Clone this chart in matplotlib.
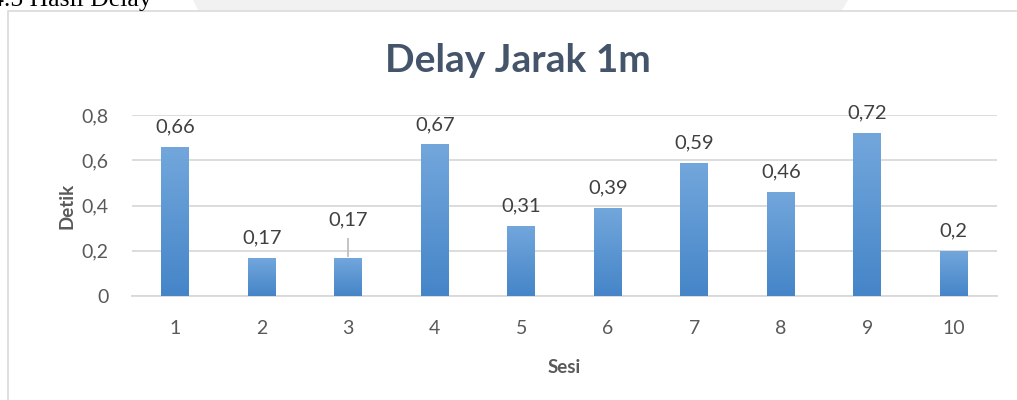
import matplotlib
matplotlib.use("Agg")
import matplotlib.pyplot as plt
import numpy as np
from matplotlib.patches import Rectangle, Polygon
from matplotlib.colors import LinearSegmentedColormap

sesi = ["1", "2", "3", "4", "5", "6", "7", "8", "9", "10"]
delay = [0.66, 0.17, 0.17, 0.67, 0.31, 0.39, 0.59, 0.46, 0.72, 0.2]
delay_labels = ["0,66", "0,17", "0,17", "0,67", "0,31", "0,39", "0,59", "0,46", "0,72", "0,2"]
yticks = [0, 0.2, 0.4, 0.6, 0.8]
ytick_labels = ["0", "0,2", "0,4", "0,6", "0,8"]

FONT = "Lato"
W, H = 1017, 400
fig = plt.figure(figsize=(W / 100, H / 100), dpi=100)
fig.patch.set_facecolor("white")

# page decorations: watermark shape, heading text, chart frame
fig.patches.append(Polygon([[193 / W, 1], [198 / W, 1 - 10 / H], [842 / W, 1 - 10 / H], [848 / W, 1]],
                           closed=True, transform=fig.transFigure, facecolor="#f1f1f1",
                           edgecolor="none", zorder=0))
fig.text(152 / W, 1 - 6 / H, "4.5 Hasil Delay", ha="right", va="baseline",
         family="Liberation Serif", fontsize=18.5, color="black")
fig.patches.append(Rectangle((8 / W, -0.05), 1.1, 1 - 11 / H + 0.05, transform=fig.transFigure,
                             facecolor="white", edgecolor="#d9d9d9", linewidth=1.2, zorder=1))

ax = fig.add_axes([132 / W, (H - 296) / H, 865 / W, (296 - 115) / H])
ax.set_zorder(2)
ax.patch.set_alpha(0)
x = np.arange(len(sesi))
bars = ax.bar(x, delay, width=0.32, color="none", zorder=3)
grad = np.linspace(0, 1, 256).reshape(-1, 1)
cmap = LinearSegmentedColormap.from_list("g", ["#4585c8", "#73a7dc"])
for b in bars:
    x0, y0 = b.get_x(), b.get_y()
    im = ax.imshow(grad, extent=[x0, x0 + b.get_width(), y0, y0 + b.get_height()],
                   origin="lower", cmap=cmap, aspect="auto", zorder=3)
    im.set_clip_path(b)

ax.set_xlim(-0.5, len(sesi) - 0.5)
ax.set_ylim(0, 0.8)
ax.set_yticks(yticks)
ax.set_yticklabels(ytick_labels)
ax.set_xticks(x)
ax.set_xticklabels(sesi)
ax.yaxis.grid(True, color="#d9d9d9", linewidth=1.3, zorder=0)
ax.set_axisbelow(True)
for s in ["top", "right", "left"]:
    ax.spines[s].set_visible(False)
ax.spines["bottom"].set_color("#d9d9d9")
ax.spines["bottom"].set_linewidth(1.3)
ax.tick_params(axis="both", length=0, labelsize=14, labelcolor="#595959")
ax.tick_params(axis="y", pad=17)
ax.tick_params(axis="x", pad=17)
for lbl in ax.get_xticklabels() + ax.get_yticklabels():
    lbl.set_family(FONT)

px = 0.8 / (296 - 115)
for i, (v, t) in enumerate(zip(delay, delay_labels)):
    if i == 2:
        ly = v + 38 * px
        ax.plot([i, i], [v + 2 * px, v + 19 * px], color="#bfbfbf", linewidth=1.3, zorder=4)
    else:
        ly = v + 20 * px
    ax.text(i, ly, t, ha="center", va="center", fontsize=14.5, color="#404040",
            family=FONT, zorder=5)

ax.set_ylabel("Detik", family=FONT, fontsize=13.5, fontweight="bold", color="#595959", labelpad=4)
ax.set_xlabel("Sesi", family=FONT, fontsize=13.5, fontweight="bold", color="#595959", labelpad=16)
fig.text(518 / W, 1 - 61 / H, "Delay Jarak 1m", ha="center", va="center", family=FONT,
         fontsize=28, fontweight="bold", color="#44546a")

fig.savefig("out.png", dpi=100)
